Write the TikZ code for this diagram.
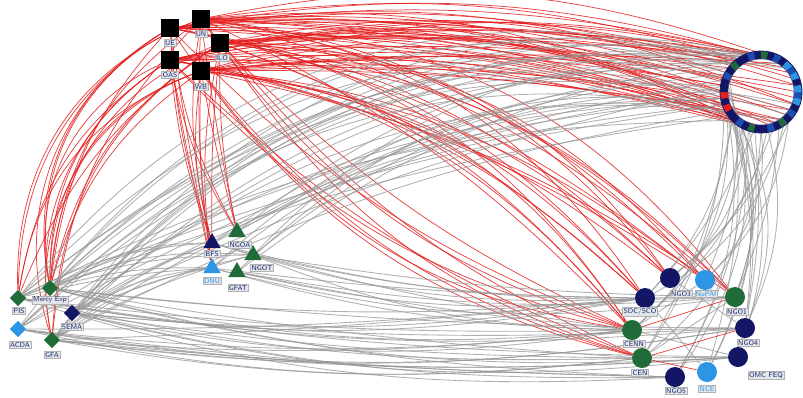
\documentclass[tikz,border=0pt]{standalone}
\usetikzlibrary{shapes.geometric}
\pgfdeclarelayer{edges}
\pgfsetlayers{edges,main}
\definecolor{ngreen}{RGB}{32,108,56}
\definecolor{nnavy}{RGB}{18,22,100}
\definecolor{nlblue}{RGB}{45,150,228}
\definecolor{nblue}{RGB}{28,78,178}
\definecolor{ered}{RGB}{228,30,30}
\definecolor{egray}{RGB}{150,150,150}
\definecolor{labtext}{RGB}{25,40,110}
\definecolor{labbg}{RGB}{226,229,233}
\begin{document}
\begin{tikzpicture}[x=0.75pt,y=-0.75pt,
  redE/.style={draw=ered, line width=0.55pt, opacity=0.85},
  grayE/.style={draw=egray, line width=0.65pt, opacity=0.75},
  sqnode/.style={rectangle, fill=black, minimum size=13.5pt, inner sep=0pt},
  dianode/.style={diamond, minimum size=12.5pt, inner sep=0pt},
  trinode/.style={regular polygon, regular polygon sides=3, minimum size=15pt, inner sep=0pt},
  circnode/.style={circle, minimum size=15pt, inner sep=0pt},
  lab/.style={font=\sffamily\fontsize{5.3}{6}\selectfont, text=labtext, fill=labbg, draw=gray!60, line width=0.3pt, inner sep=0.8pt},
  lablb/.style={lab, text=nlblue},
]
\useasboundingbox (0,0) rectangle (803,397);

% ---------- square actors ----------
\node[sqnode] (s1) at (170,28) {};
\node[sqnode] (s2) at (201,19) {};
\node[sqnode] (s3) at (220,43) {};
\node[sqnode] (s4) at (170,60) {};
\node[sqnode] (s5) at (201,71) {};

% ---------- left diamonds ----------
\node[dianode, fill=ngreen] (pis)  at (18,298) {};
\node[dianode, fill=ngreen] (mer)  at (50,288) {};
\node[dianode, fill=nlblue] (acda) at (18,329) {};
\node[dianode, fill=nnavy]  (sema) at (72,313) {};
\node[dianode, fill=ngreen] (gfa)  at (52,340) {};

% ---------- middle triangles ----------
\node[trinode, fill=nnavy]  (bfs)  at (212,243) {};
\node[trinode, fill=nlblue] (dnu)  at (212,268) {};
\node[trinode, fill=ngreen] (ngoa) at (237,232) {};
\node[trinode, fill=ngreen] (ngot) at (253,255) {};
\node[trinode, fill=ngreen] (gfat) at (237,272) {};

% ---------- right circles ----------
\node[circnode, fill=nnavy]  (ngo3)  at (670,278) {};
\node[circnode, fill=nlblue] (nupai) at (705,280) {};
\node[circnode, fill=nnavy]  (sdc)   at (645,298) {};
\node[circnode, fill=ngreen] (ngo1)  at (735,297) {};
\node[circnode, fill=ngreen] (cenn)  at (632,330) {};
\node[circnode, fill=nnavy]  (ngo4)  at (745,328) {};
\node[circnode, fill=ngreen] (cen)   at (642,358) {};
\node[circnode, fill=nnavy]  (omc)   at (738,357) {};
\node[circnode, fill=nnavy]  (ngo5)  at (675,377) {};
\node[circnode, fill=nlblue] (nce)   at (707,372) {};

% ---------- ring of member nodes ----------
\foreach \i in {0,...,35}
  \path (761,92) ++(\i*10:37) coordinate (r\i);

\begin{pgfonlayer}{edges}
% squares to the ring
\foreach \s [count=\k] in {s1,s2,s3,s4,s5}{
  \foreach \r [count=\j] in {34,1,4,7,10,14,18,22,26,30}{
    \pgfmathtruncatemacro\rr{mod(\r+\k,36)}
    \pgfmathtruncatemacro\b{4+mod(\k*5+\j*3,13)}
    \draw[redE] (\s) to[bend left=\b] (r\rr);
  }
}
% squares to the left diamonds
\foreach \s [count=\k] in {s1,s2,s3,s4,s5}{
  \foreach \t [count=\j] in {pis,mer,gfa,mer}{
    \pgfmathtruncatemacro\b{16+mod(\k*7+\j*5,26)}
    \draw[redE] (\s) to[bend right=\b] (\t);
  }
}
% squares to the triangles
\foreach \s [count=\k] in {s1,s2,s3,s4,s5}{
  \foreach \t [count=\j] in {bfs,ngoa,dnu}{
    \pgfmathtruncatemacro\b{mod(\k*4+\j*3,12)}
    \draw[redE] (\s) to[bend right=\b] (\t);
  }
}
% squares to the right circles
\foreach \s [count=\k] in {s1,s2,s3,s4,s5}{
  \foreach \t [count=\j] in {sdc,cenn,ngo1,nupai,ngo3}{
    \pgfmathtruncatemacro\b{10+mod(\k*5+\j*4,18)}
    \draw[redE] (\s) to[bend left=\b] (\t);
  }
  \foreach \t [count=\j] in {cen,cenn}{
    \pgfmathtruncatemacro\b{10+mod(\k*6+\j*5,14)}
    \draw[redE] (\s) to[bend right=\b] (\t);
  }
}

% left diamonds to the ring, high arcs
\foreach \t [count=\k] in {pis,mer,gfa,sema,acda}{
  \foreach \r [count=\j] in {19,23,27,1}{
    \pgfmathtruncatemacro\rr{mod(\r+\k,36)}
    \pgfmathtruncatemacro\b{20+mod(\k*5+\j*4,16)}
    \draw[grayE] (\t) to[bend left=\b] (r\rr);
  }
  \foreach \r [count=\j] in {12,15}{
    \pgfmathtruncatemacro\rr{mod(\r+\k,36)}
    \pgfmathtruncatemacro\b{6+mod(\k*3+\j*4,10)}
    \draw[grayE] (\t) to[bend left=\b] (r\rr);
  }
}
% triangles to the ring
\foreach \t [count=\k] in {bfs,dnu,ngoa,ngot,gfat}{
  \foreach \r [count=\j] in {14,20}{
    \pgfmathtruncatemacro\rr{mod(\r+\k,36)}
    \pgfmathtruncatemacro\b{12+mod(\k*4+\j*5,14)}
    \draw[grayE] (\t) to[bend left=\b] (r\rr);
  }
}
% left diamonds to the right circles
\foreach \t [count=\k] in {pis,mer,gfa,sema,acda}{
  \foreach \u [count=\j] in {sdc,cenn,cen,ngo5,omc,ngo4}{
    \pgfmathtruncatemacro\b{2+mod(\k*5+\j*3,9)}
    \draw[grayE] (\t) to[bend right=\b] (\u);
  }
}
% triangles to the right circles
\foreach \t [count=\k] in {bfs,dnu,ngot,gfat}{
  \foreach \u [count=\j] in {sdc,cenn,ngo1}{
    \pgfmathtruncatemacro\b{3+mod(\k*3+\j*4,10)}
    \draw[grayE] (\t) to[bend right=\b] (\u);
  }
}
% left diamonds to the triangles
\foreach \t [count=\k] in {pis,mer,sema,gfa}{
  \foreach \u [count=\j] in {bfs,dnu,ngot}{
    \pgfmathtruncatemacro\b{4+mod(\k*3+\j*5,12)}
    \draw[grayE] (\t) to[bend left=\b] (\u);
  }
}
% right circles up to the ring
\foreach \u [count=\k] in {ngo3,nupai,sdc,ngo1,cenn,ngo4,cen,omc,ngo5,nce}{
  \foreach \r [count=\j] in {7,11,2}{
    \pgfmathtruncatemacro\rr{mod(\r+\k,36)}
    \pgfmathtruncatemacro\b{8+mod(\k*5+\j*7,20)}
    \draw[grayE] (\u) to[bend right=\b] (r\rr);
  }
}
% ties among the right circles
\foreach \a/\c in {sdc/ngo1,cenn/ngo4,cen/omc,cenn/nupai,ngo3/ngo4,sdc/nce,cen/ngo1,cenn/omc}
  \draw[grayE] (\a) -- (\c);
\foreach \a/\c in {cen/nce,cenn/ngo1,cen/ngo4}
  \draw[redE] (\a) -- (\c);
\end{pgfonlayer}

% ring segments with a dark rim
\foreach \c [count=\i from 0] in {nblue,nlblue,nnavy,nblue,nnavy,ngreen,nnavy,nblue,nnavy,
  nnavy,ngreen,nnavy,nblue,nnavy,nnavy,ered,nnavy,ered,
  nnavy,nnavy,nblue,nnavy,ngreen,nnavy,nnavy,nblue,nnavy,
  ngreen,nnavy,nblue,nnavy,nlblue,nblue,nlblue,nnavy,nlblue}
  \draw[draw=\c, line width=5.8pt] (761,92) ++(\i*10:37) arc[start angle=\i*10, end angle=\i*10+10.5, radius=37];
\draw[nnavy, line width=0.6pt] (761,92) circle[radius=41];
\draw[nnavy!80, line width=0.4pt] (761,92) circle[radius=33];

% ---------- labels ----------
\node[lab] (s1l) at (170,43) {UE};
\node[lab] (s2l) at (201,34) {UN};
\node[lab] (s3l) at (222,58) {ILO};
\node[lab] (s4l) at (170,75) {OAS};
\node[lab] (s5l) at (201,87) {WB};
\node[lab] (pisl)  at (19,311) {PIS};
\node[lab] (merl)  at (50,300) {Mercy Exp};
\node[lab] (acdal) at (20,345) {ACDA};
\node[lab] (semal) at (72,327) {SEMA};
\node[lab] (gfal)  at (52,355) {GFA};
\node[lab] (bfsl)  at (212,254) {BFS};
\node[lablb] (dnul)  at (212,281) {DNU};
\node[lab] (ngoal) at (240,245) {NGOA};
\node[lab] (ngotl) at (262,268) {NGOT};
\node[lab] (gfatl) at (238,288) {GFAT};
\node[lab] (ngo3l)  at (681,294) {NGO3};
\node[lablb] (nupail) at (706,294) {NuPAI};
\node[lab] (sdcl)   at (640,312) {SDC/SCO};
\node[lab] (ngo1l)  at (737,312) {NGO1};
\node[lab] (cennl)  at (634,344) {CENN};
\node[lab] (ngo4l)  at (748,343) {NGO4};
\node[lab] (cenl)   at (640,373) {CEN};
\node[lab] (omcl)   at (766,375) {OMC FEQ};
\node[lab] (ngo5l)  at (676,391) {NGO5};
\node[lablb] (ncel)   at (707,389) {NCE};
\end{tikzpicture}
\end{document}
